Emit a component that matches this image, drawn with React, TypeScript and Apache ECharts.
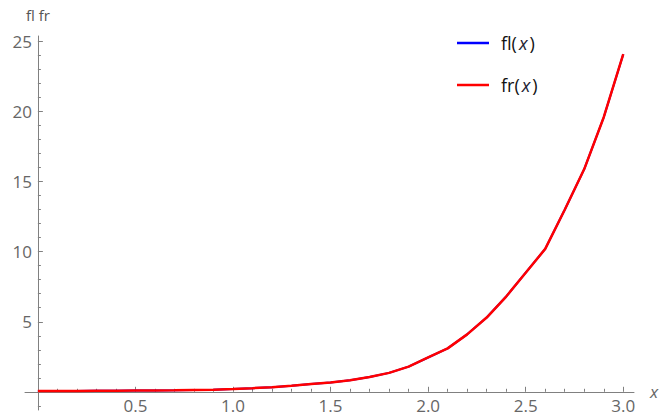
import React, { useEffect, useRef } from "react";
import * as echarts from "echarts";

// x sample points
const xValues = [
  0, 0.1, 0.2, 0.3, 0.4, 0.5, 0.6, 0.7, 0.8, 0.9, 1.0, 1.1, 1.2, 1.3, 1.4, 1.5,
  1.6, 1.7, 1.8, 1.9, 2.0, 2.1, 2.2, 2.3, 2.4, 2.5, 2.6, 2.7, 2.8, 2.9, 3.0,
];
// fr(x) values
const frValues = [
  0.05, 0.05, 0.06, 0.07, 0.08, 0.09, 0.1, 0.11, 0.13, 0.15, 0.2, 0.26, 0.33,
  0.43, 0.55, 0.67, 0.82, 1.05, 1.35, 1.8, 2.45, 3.1, 4.1, 5.3, 6.8, 8.5, 10.2,
  13.0, 15.9, 19.6, 24.1,
];
// fl(x) is drawn underneath fr(x) and is hidden by it
const flValues = [
  0.05, 0.05, 0.06, 0.07, 0.08, 0.09, 0.1, 0.11, 0.13, 0.15, 0.2, 0.26, 0.33,
  0.43, 0.55, 0.67, 0.82, 1.05, 1.35, 1.8, 2.45, 3.1, 4.1, 5.3, 6.8, 8.5, 10.2,
  13.0, 15.9, 19.6, 24.1,
];

const seriesNames = ["fl(x)", "fr(x)"];
const seriesColors = ["#0000ff", "#ff0000"];

const xMajorTicks = [0.5, 1.0, 1.5, 2.0, 2.5, 3.0];
const yMajorTicks = [5, 10, 15, 20, 25];

const X_MIN = -0.066;
const X_MAX = 3.055;
const Y_MIN = -1.3;
const Y_MAX = 25.4;

function minorTicks(from: number, to: number, step: number, majorStep: number) {
  const out: number[] = [];
  const n = Math.round((to - from) / step);
  for (let i = 0; i <= n; i++) {
    const v = Math.round((from + i * step) * 1000) / 1000;
    const r = v / majorStep;
    if (Math.abs(r - Math.round(r)) > 1e-6) out.push(v);
  }
  return out;
}

const xMinorTicks = minorTicks(0, 3, 0.1, 0.5);
const yMinorTicks = minorTicks(-1, 25, 1, 5);

const FONT = "'Open Sans', 'Noto Sans', sans-serif";
const AXIS_COLOR = "#808080";
const LABEL_COLOR = "#666666";

export default function App() {
  const ref = useRef<HTMLDivElement>(null);

  useEffect(() => {
    if (!ref.current) return;
    const chart = echarts.init(ref.current, undefined, { renderer: "svg" });

    const toPairs = (ys: number[]) => xValues.map((x, i) => [x, ys[i]]);

    const option: any = {
      animation: false,
      backgroundColor: "#ffffff",
      grid: {
        left: 25,
        right: 25,
        top: 36,
        bottom: 8,
        containLabel: false,
        outerBoundsMode: "none",
      },
      legend: {
        orient: "vertical",
        left: 452,
        top: 27,
        icon: "rect",
        itemWidth: 32,
        itemHeight: 2.5,
        itemGap: 20,
        data: seriesNames,
        formatter: (name: string) =>
          `{p|}{a|${name.slice(0, name.length - 3)}(}{b|x}{a|)}`,
        textStyle: {
          fontFamily: FONT,
          fontSize: 18,
          lineHeight: 22,
          color: "#111",
          rich: {
            p: { width: 7, lineHeight: 22 },
            a: { fontFamily: FONT, fontSize: 18, lineHeight: 22, color: "#111" },
            b: {
              fontFamily: FONT,
              fontSize: 18,
              lineHeight: 22,
              fontStyle: "italic",
              color: "#223",
              padding: [0, 2, 0, 2],
            },
          },
        },
      },
      xAxis: [
        {
          type: "value",
          min: X_MIN,
          max: X_MAX,
          name: "x",
          nameLocation: "end",
          nameGap: 16,
          nameTextStyle: {
            fontFamily: FONT,
            fontSize: 17,
            fontStyle: "italic",
            color: LABEL_COLOR,
            verticalAlign: "middle",
          },
          axisLine: {
            show: true,
            onZero: true,
            onZeroAxisIndex: 0,
            lineStyle: { color: AXIS_COLOR, width: 1 },
          },
          axisTick: {
            show: true,
            inside: true,
            length: 5,
            customValues: xMajorTicks,
            lineStyle: { color: AXIS_COLOR },
          },
          axisLabel: {
            show: true,
            customValues: xMajorTicks,
            formatter: (v: number) => v.toFixed(1),
            fontFamily: FONT,
            fontSize: 17,
            color: LABEL_COLOR,
            margin: -13,
          },
          splitLine: { show: false },
        },
        {
          type: "value",
          min: X_MIN,
          max: X_MAX,
          position: "bottom",
          axisLine: { show: false, onZero: true, onZeroAxisIndex: 0 },
          axisTick: {
            show: true,
            inside: true,
            length: 3,
            customValues: xMinorTicks,
            lineStyle: { color: AXIS_COLOR },
          },
          axisLabel: { show: false },
          splitLine: { show: false },
        },
      ],
      yAxis: [
        {
          type: "value",
          min: Y_MIN,
          max: Y_MAX,
          position: "left",
          name: "fl fr",
          nameLocation: "end",
          nameGap: 21,
          nameTextStyle: {
            fontFamily: FONT,
            fontSize: 15,
            color: "#555555",
            align: "center",
            verticalAlign: "middle",
          },
          axisLine: {
            show: true,
            onZero: true,
            onZeroAxisIndex: 0,
            lineStyle: { color: AXIS_COLOR, width: 1 },
          },
          axisTick: {
            show: true,
            inside: true,
            length: 5,
            customValues: yMajorTicks,
            lineStyle: { color: AXIS_COLOR },
          },
          axisLabel: {
            show: true,
            customValues: yMajorTicks,
            fontFamily: FONT,
            fontSize: 17,
            color: LABEL_COLOR,
            margin: -7,
          },
          splitLine: { show: false },
        },
        {
          type: "value",
          min: Y_MIN,
          max: Y_MAX,
          position: "left",
          axisLine: { show: false, onZero: true, onZeroAxisIndex: 0 },
          axisTick: {
            show: true,
            inside: true,
            length: 3,
            customValues: yMinorTicks,
            lineStyle: { color: AXIS_COLOR },
          },
          axisLabel: { show: false },
          splitLine: { show: false },
        },
      ],
      series: [
        {
          name: seriesNames[0],
          type: "line",
          xAxisIndex: 0,
          yAxisIndex: 0,
          data: toPairs(flValues),
          symbol: "none",
          showSymbol: false,
          smooth: false,
          color: seriesColors[0],
          lineStyle: { color: seriesColors[0], width: 2 },
        },
        {
          name: seriesNames[1],
          type: "line",
          xAxisIndex: 0,
          yAxisIndex: 0,
          data: toPairs(frValues),
          symbol: "none",
          showSymbol: false,
          smooth: false,
          color: seriesColors[1],
          lineStyle: { color: seriesColors[1], width: 2.5 },
        },
      ],
    };

    chart.setOption(option);
    return () => chart.dispose();
  }, []);

  return (
    <div
      ref={ref}
      style={{ position: "absolute", left: 0, top: 0, width: 659, height: 418 }}
    />
  );
}
